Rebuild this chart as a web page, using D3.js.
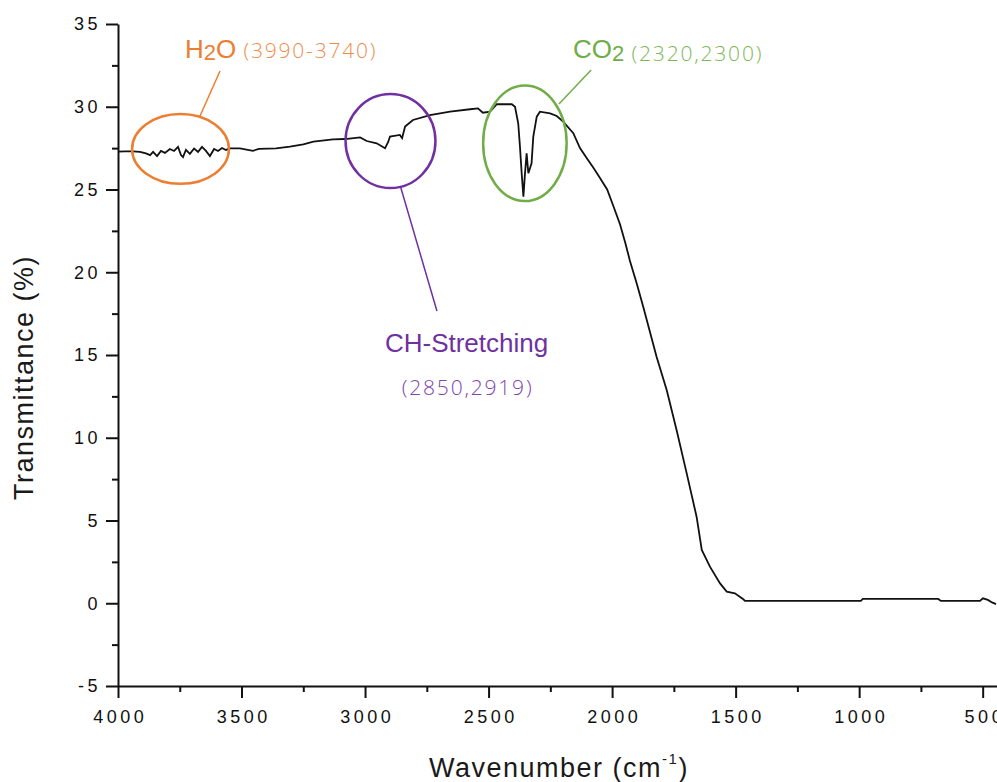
<!DOCTYPE html>
<html>
<head>
<meta charset="utf-8">
<script src="https://cdn.jsdelivr.net/npm/d3@7/dist/d3.min.js"></script>
<style>
  html, body { margin: 0; padding: 0; background: #fff; }
  svg { display: block; }
</style>
</head>
<body>
<div id="chart"></div>
<script>
// ---- Data ----
const wavenumber = [4000, 3972, 3939, 3911, 3887, 3870, 3858, 3842, 3826, 3810, 3790, 3773, 3757, 3745, 3737, 3725, 3709, 3692, 3676, 3660, 3644, 3628, 3611, 3595, 3579, 3563, 3547, 3506, 3454, 3430, 3360, 3304, 3250, 3209, 3130, 3081, 3020, 2993, 2953, 2919, 2906, 2899, 2859, 2850, 2838, 2806, 2737, 2656, 2575, 2543, 2523, 2494, 2467, 2406, 2393, 2380, 2373, 2366, 2359, 2353, 2346, 2339, 2326, 2319, 2305, 2292, 2251, 2224, 2198, 2157, 2130, 2103, 2075, 2049, 2020, 1995, 1968, 1947, 1928, 1900, 1874, 1820, 1779, 1739, 1698, 1658, 1637, 1604, 1563, 1536, 1503, 1469, 1462, 993, 985, 889, 808, 762, 680, 669, 592, 511, 499, 479, 462, 446];
const transmittance = [27.29, 27.30, 27.30, 27.27, 27.18, 27.08, 27.27, 27.02, 27.33, 27.21, 27.45, 27.33, 27.57, 27.08, 26.96, 27.39, 27.15, 27.48, 27.27, 27.57, 27.33, 27.02, 27.45, 27.33, 27.51, 27.39, 27.48, 27.48, 27.34, 27.45, 27.48, 27.59, 27.73, 27.89, 28.03, 28.05, 28.15, 27.93, 27.79, 27.49, 27.89, 28.2, 28.3, 28.1, 28.8, 29.2, 29.5, 29.7, 29.85, 29.9, 29.64, 29.7, 30.15, 30.15, 30.0, 29.0, 27.6, 25.98, 24.57, 25.88, 27.19, 25.98, 26.58, 28.19, 29.4, 29.7, 29.6, 29.44, 29.1, 28.4, 27.5, 26.9, 26.3, 25.7, 25.0, 24.0, 22.9, 21.8, 20.7, 19.3, 17.92, 14.9, 12.89, 10.47, 7.85, 5.23, 3.22, 2.21, 1.2, 0.70, 0.6, 0.24, 0.14, 0.14, 0.26, 0.26, 0.26, 0.26, 0.26, 0.14, 0.14, 0.14, 0.3, 0.2, 0.05, -0.05];

const xMajorTicks = [4000, 3500, 3000, 2500, 2000, 1500, 1000, 500];
const xMinorTicks = [3750, 3250, 2750, 2250, 1750, 1250, 750];
const yMajorTicks = [-5, 0, 5, 10, 15, 20, 25, 30, 35];
const yMinorTicks = [-2.5, 2.5, 7.5, 12.5, 17.5, 22.5, 27.5, 32.5];

const xTitle = "Wavenumber (cm";
const xTitleSup = "-1";
const yTitle = "Transmittance (%)";

// annotation labels and their anchor points in data units
const annoLabels = [
  { main: "H", sub: "2", tail: "O", note: "(3990-3740)" },
  { main: "CH-Stretching", note: "(2850,2919)" },
  { main: "CO", sub: "2", tail: "", note: "(2320,2300)" }
];
const annoEllipse = [ // centre wavenumber, centre T, half-width (cm-1), half-height (%)
  [3747, 27.45, 196, 2.11],
  [2897, 27.93, 182, 2.84],
  [2353, 27.79, 169, 3.49]
];
const annoLeader = [
  [[3668, 29.44], [3587, 32.16]],
  [[2856, 25.15], [2709, 17.66]],
  [[2215, 30.17], [2085, 32.22]]
];
const annoText = [ // x, baseline T
  [3729, 32.95],
  [2589, 15.2],
  [2158, 32.93]
];
const annoColors = ["#ED7D31", "#7030A0", "#70AD47"];
const annoNoteColors = ["#EF8C4C", "#7E45AD", "#7DB65A"];

// ---- Drawing ----
const W = 997, H = 782;
const svg = d3.select("#chart").append("svg").attr("width", W).attr("height", H);

const x = d3.scaleLinear().domain([4000, 442]).range([118, 997]);
const y = d3.scaleLinear().domain([-5, 35]).range([686, 24]);

svg.append("defs").append("clipPath").attr("id", "plotclip")
  .append("rect").attr("x", 118).attr("y", 10).attr("width", W - 118).attr("height", 686 - 10);

const tickFont = "'Liberation Sans', Arial, sans-serif";

// X axis
const gx = svg.append("g").attr("transform", `translate(0,${y(-5)})`)
  .call(d3.axisBottom(x).tickValues(xMajorTicks).tickSize(12).tickSizeOuter(0).tickPadding(12)
    .tickFormat(d => String(d)));
svg.append("g").attr("transform", `translate(0,${y(-5)})`)
  .call(d3.axisBottom(x).tickValues(xMinorTicks).tickSize(6).tickSizeOuter(0).tickFormat(""))
  .call(g => g.select(".domain").remove());

// Y axis
const gy = svg.append("g").attr("transform", `translate(${x(4000)},0)`)
  .call(d3.axisLeft(y).tickValues(yMajorTicks).tickSize(12).tickSizeOuter(0).tickPadding(5)
    .tickFormat(d => String(d)));
svg.append("g").attr("transform", `translate(${x(4000)},0)`)
  .call(d3.axisLeft(y).tickValues(yMinorTicks).tickSize(6).tickSizeOuter(0).tickFormat(""))
  .call(g => g.select(".domain").remove());

svg.selectAll(".domain").attr("stroke", "#111").attr("stroke-width", 2);
svg.selectAll(".tick line").attr("stroke", "#111").attr("stroke-width", 2);
svg.selectAll(".tick text")
  .attr("font-family", tickFont).attr("font-size", 18).attr("fill", "#111")
  .attr("letter-spacing", "3.5px");
gx.selectAll(".tick text").attr("dx", "1.7px");

// Axis titles
const xt = svg.append("text").attr("x", 559).attr("y", 777).attr("text-anchor", "middle")
  .attr("font-family", tickFont).attr("font-size", 27).attr("fill", "#1a1a1a")
  .attr("letter-spacing", "1.5px");
xt.append("tspan").text(xTitle);
xt.append("tspan").attr("font-size", 15).attr("dy", -13).text(xTitleSup);
xt.append("tspan").attr("dy", 13).text(")");

svg.append("text").attr("transform", `translate(33,${(253 + 502) / 2}) rotate(-90)`)
  .attr("text-anchor", "middle").attr("font-family", tickFont).attr("font-size", 27)
  .attr("fill", "#1a1a1a").attr("letter-spacing", "1.5px").text(yTitle);

// Spectrum
const pts = wavenumber.map((w, i) => [w, transmittance[i]]);
svg.append("path").datum(pts)
  .attr("clip-path", "url(#plotclip)")
  .attr("fill", "none").attr("stroke", "#111").attr("stroke-width", 1.8)
  .attr("stroke-linejoin", "miter")
  .attr("d", d3.line().x(d => x(d[0])).y(d => y(d[1])));

// Annotations
const annoFont = "'Liberation Sans', Arial, sans-serif";
const noteFont = "'Open Sans', 'Liberation Sans', sans-serif";
annoLabels.forEach((a, i) => {
  const col = annoColors[i];
  const [cw, ct, rw, rt] = annoEllipse[i];
  svg.append("ellipse")
    .attr("cx", x(cw)).attr("cy", y(ct))
    .attr("rx", Math.abs(x(cw + rw) - x(cw))).attr("ry", Math.abs(y(ct + rt) - y(ct)))
    .attr("fill", "none").attr("stroke", col).attr("stroke-width", 2.5);
  const L = annoLeader[i];
  svg.append("line")
    .attr("x1", x(L[0][0])).attr("y1", y(L[0][1]))
    .attr("x2", x(L[1][0])).attr("y2", y(L[1][1]))
    .attr("stroke", col).attr("stroke-width", 1.5);
  const [tw, tt] = annoText[i];
  if (a.sub !== undefined) {
    const t = svg.append("text").attr("x", x(tw)).attr("y", y(tt))
      .attr("font-family", annoFont).attr("font-size", 26).attr("fill", col);
    t.append("tspan").text(a.main);
    t.append("tspan").attr("font-size", 22).attr("dy", 2.5).text(a.sub);
    t.append("tspan").attr("dy", -2.5).text(a.tail);
    t.append("tspan").attr("font-family", noteFont).attr("font-weight", 300)
      .attr("font-size", 21).attr("fill", annoNoteColors[i]).attr("letter-spacing", "1.8px")
      .text("\u00a0" + a.note);
  } else {
    svg.append("text").attr("x", x(tw)).attr("y", y(tt)).attr("text-anchor", "middle")
      .attr("font-family", annoFont).attr("font-size", 26).attr("fill", col).text(a.main);
    svg.append("text").attr("x", x(tw) + 1).attr("y", y(tt) + 43).attr("text-anchor", "middle")
      .attr("font-family", noteFont).attr("font-weight", 300).attr("font-size", 21)
      .attr("letter-spacing", "1.8px").attr("fill", annoNoteColors[i]).text(a.note);
  }
});
</script>
</body>
</html>
